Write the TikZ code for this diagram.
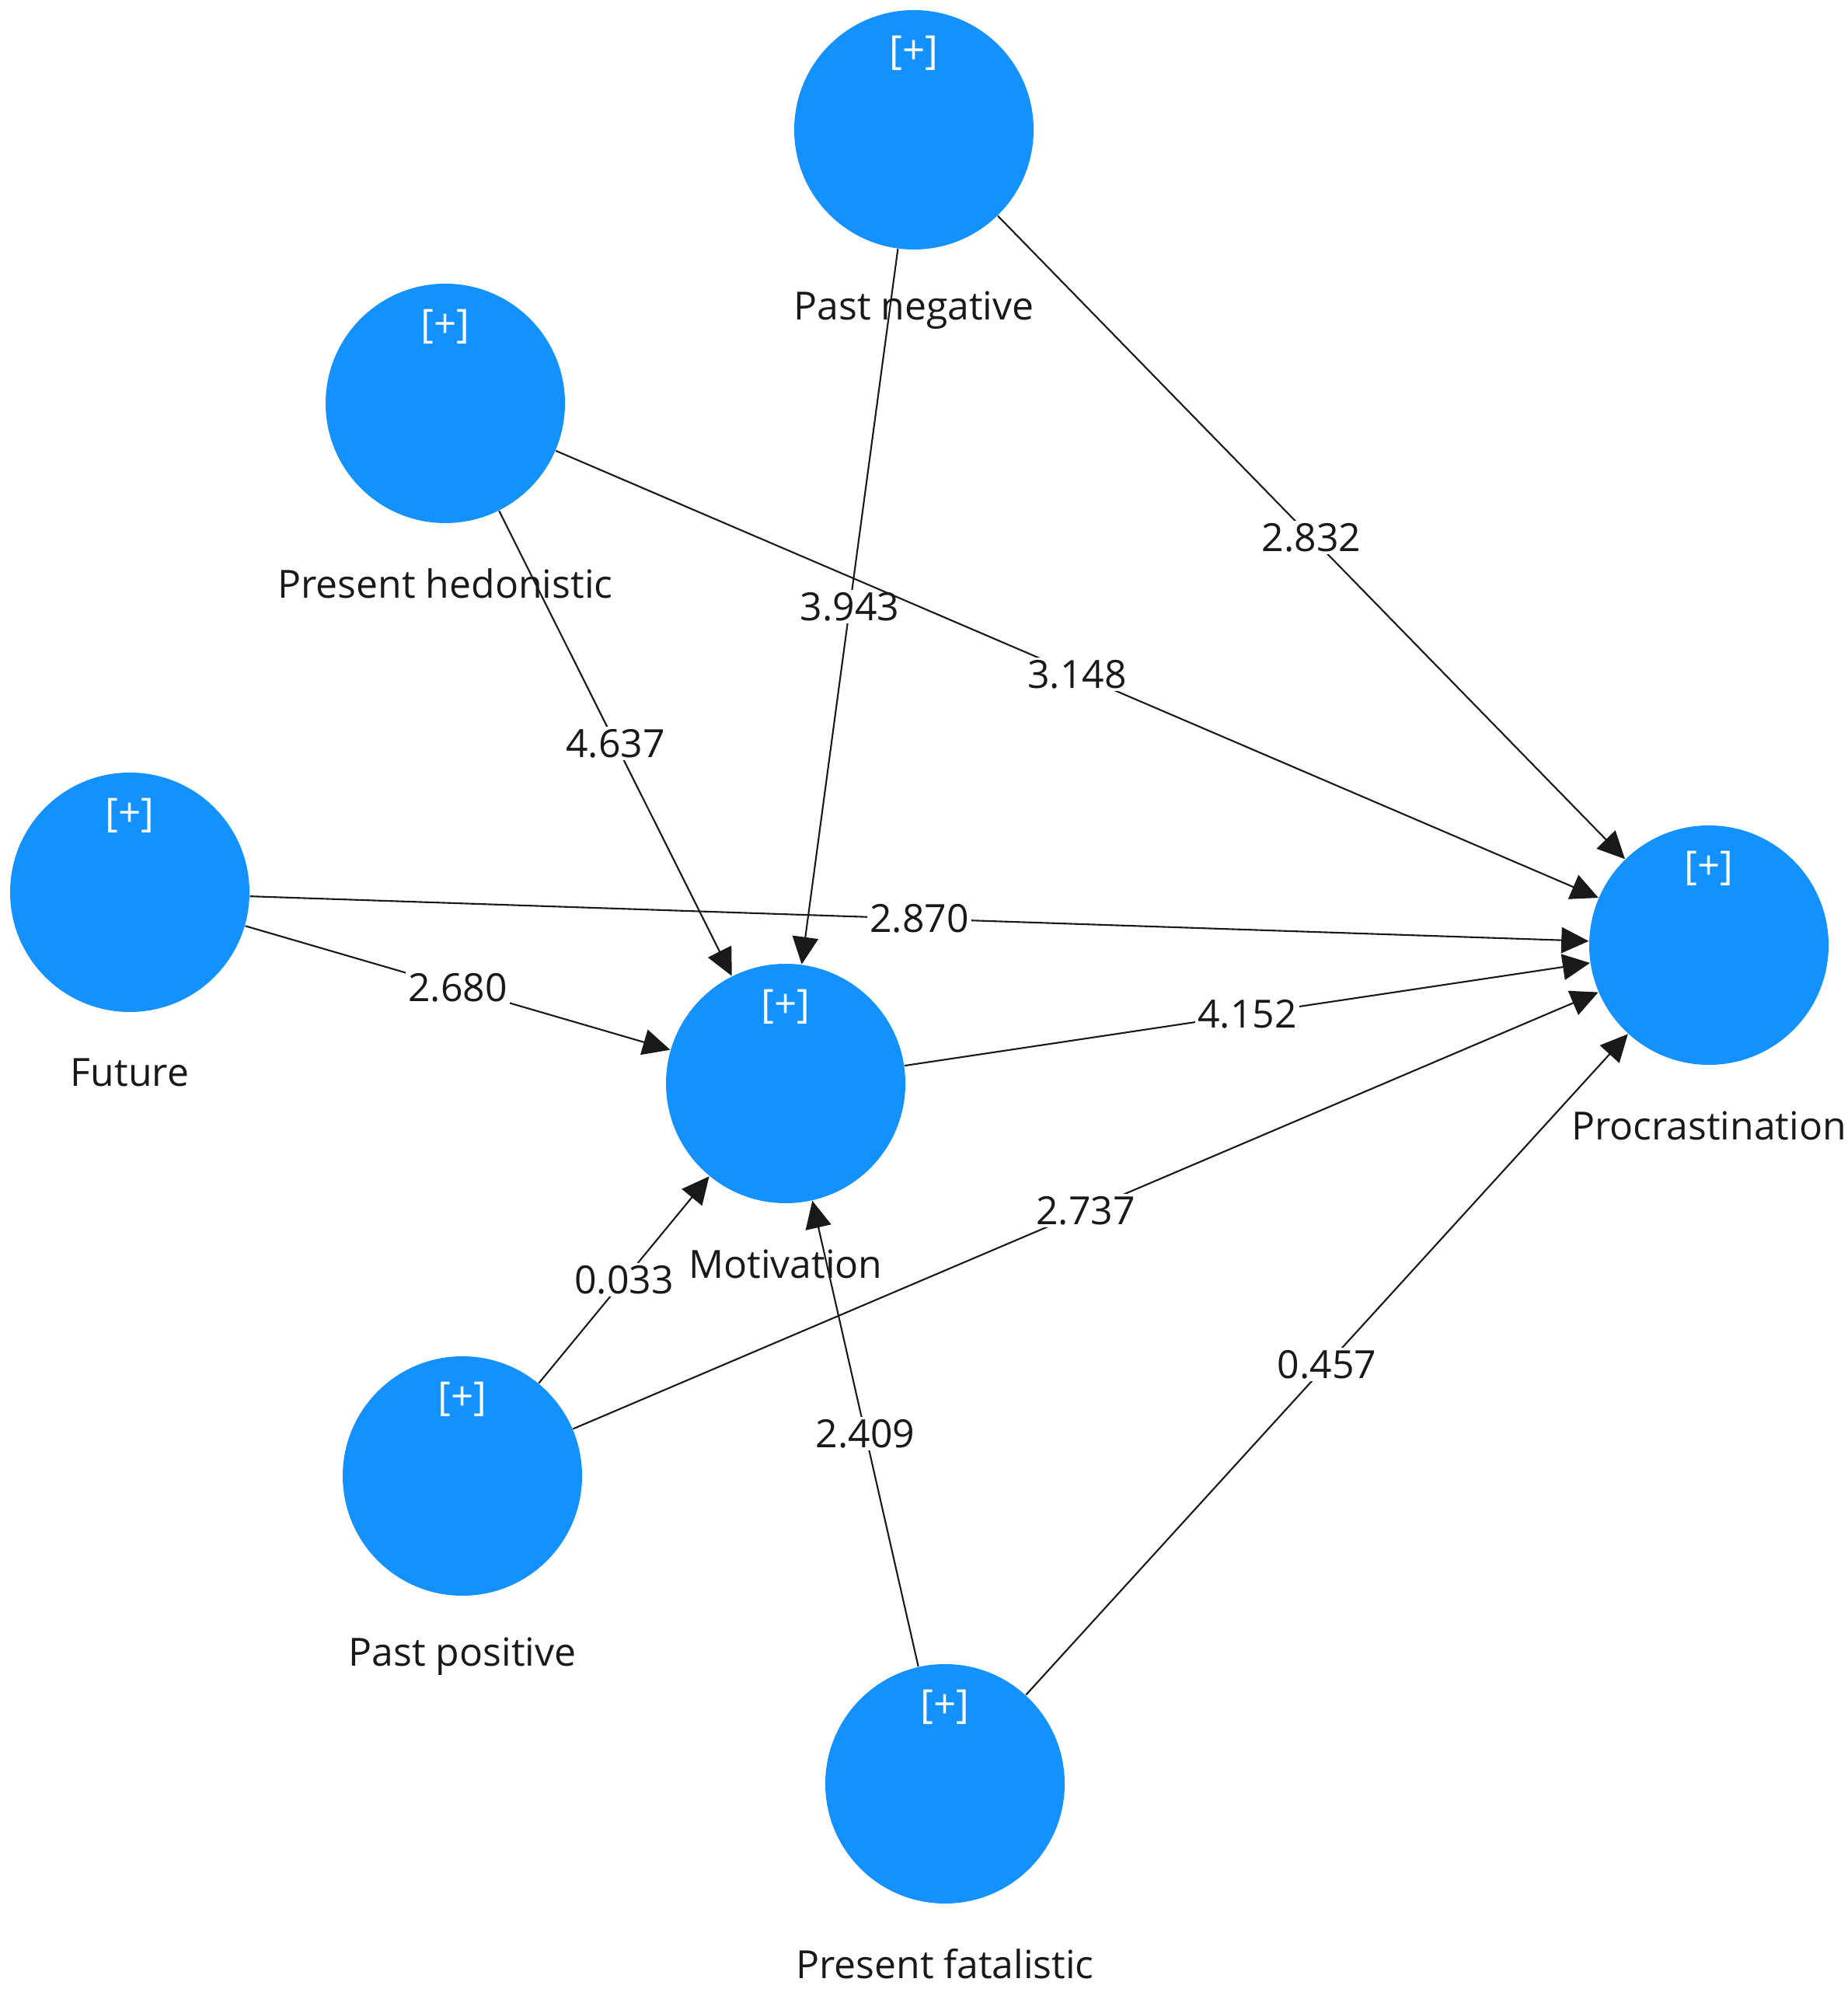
\documentclass[tikz,border=0pt]{standalone}
\usepackage{fontspec}
\setmainfont{Open Sans}
\usepackage{tikz}
\usetikzlibrary{arrows.meta}
\definecolor{lvblue}{RGB}{19,145,255}

\begin{document}
\begin{tikzpicture}[
    lv/.style={circle, fill=lvblue, minimum size=3.08cm, inner sep=0pt,
        label={[white, font=\fontsize{14.5}{16}\selectfont, yshift=0.99cm]center:{[+]}}},
    lvname/.style={font=\fontsize{14.2}{17}\selectfont, text=black!90},
    lvpath/.style={draw=black!90, line width=0.6pt, -{Triangle[length=10pt, width=9.5pt]}},
    weight/.style={fill=white, inner sep=1pt, font=\fontsize{14.2}{17}\selectfont, text=black!90}
]
\useasboundingbox (0,0) rectangle (23.77,25.68);

% Constructs
\node[lv] (pneg) at (11.76,24.01) {};
\node[lv] (phed) at (5.73,20.49) {};
\node[lv] (fut)  at (1.67,14.20) {};
\node[lv] (mot)  at (10.11,11.74) {};
\node[lv] (pro)  at (21.99,13.52) {};
\node[lv] (ppos) at (5.95,6.69) {};
\node[lv] (pfat) at (12.16,2.73) {};

% Names under the circles
\foreach \n/\t in {pneg/Past negative, phed/Present hedonistic, fut/Future,
    mot/Motivation, pro/Procrastination, ppos/Past positive, pfat/Present fatalistic} {
    \node[lvname] (\n-name) at ([yshift=-2.32cm]\n) {\t};
}

% Paths with t values
\foreach \a/\b/\v in {pneg/pro/2.832, pneg/mot/3.943, phed/pro/3.148, phed/mot/4.637,
    fut/pro/2.870, fut/mot/2.680, mot/pro/4.152, ppos/pro/2.737, ppos/mot/0.033,
    pfat/mot/2.409, pfat/pro/0.457} {
    \draw[lvpath] (\a) -- node[weight] {\v} (\b);
}
\end{tikzpicture}
\end{document}
